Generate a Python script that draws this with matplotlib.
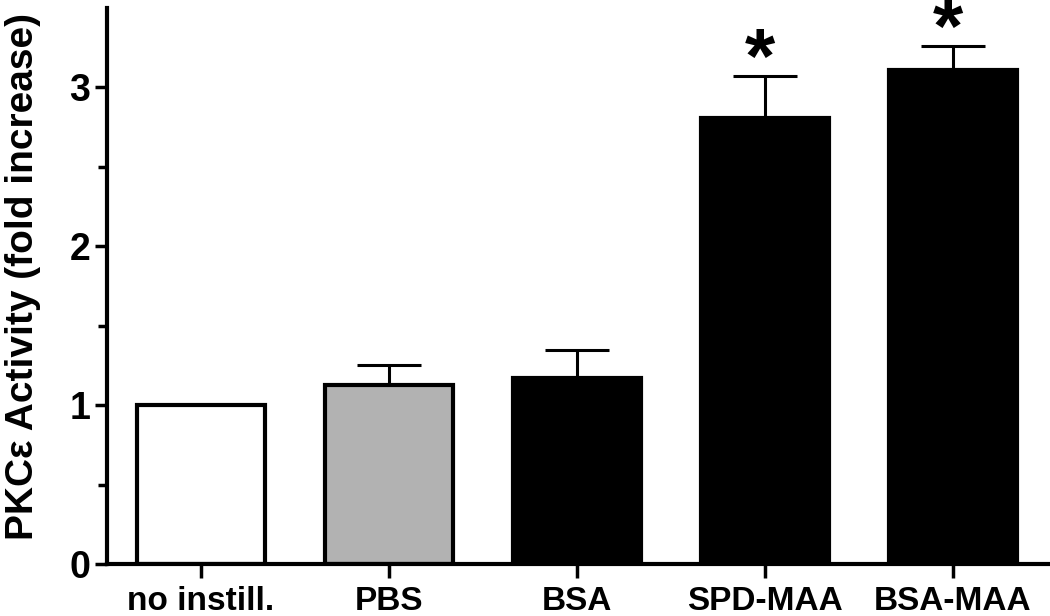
import matplotlib
matplotlib.use("Agg")
import matplotlib.pyplot as plt
from matplotlib.ticker import FixedLocator

plt.rcParams['font.family'] = ['Liberation Sans', 'DejaVu Sans']
plt.rcParams['font.weight'] = 'bold'

# --- data ---
groups = ["no instill.", "PBS", "BSA", "SPD-MAA", "BSA-MAA"]
activity = [1.0, 1.13, 1.17, 2.81, 3.11]
sem = [0.0, 0.12, 0.18, 0.26, 0.15]
fills = ["white", "#b2b2b2", "black", "black", "black"]
significant = [False, False, False, True, True]

fig = plt.figure(figsize=(10.5, 6.16), dpi=100)
ax = fig.add_axes([0.1019, 0.0844, 0.8981, 0.9026])

x = list(range(len(groups)))
ax.bar(x, activity, width=0.68, color=fills, edgecolor="black", linewidth=3, zorder=2)

# only upper error bars
ax.errorbar(x[1:], activity[1:], yerr=[[0] * 4, sem[1:]], fmt="none",
            ecolor="black", elinewidth=2.2, capsize=23, capthick=2.2, zorder=1)

# significance stars just above the caps
for xi, a, s, sig in zip(x, activity, sem, significant):
    if sig:
        ax.annotate("*", xy=(xi, a + s), xytext=(-3.6, -5), textcoords="offset points",
                    ha="center", va="baseline", fontsize=56, fontweight="bold",
                    annotation_clip=False)

ax.set_xlim(-0.5, 4.516)
ax.set_ylim(0, 3.5)
ax.set_xticks(x)
ax.set_xticklabels(groups, fontsize=24, fontweight="bold")
ax.set_yticks([0, 1, 2, 3])
ax.set_yticklabels(["0", "1", "2", "3"], fontsize=27, fontweight="bold")
ax.yaxis.set_minor_locator(FixedLocator([0.5, 1.5, 2.5]))

for side in ["top", "right"]:
    ax.spines[side].set_visible(False)
for side in ["left", "bottom"]:
    ax.spines[side].set_linewidth(3)

ax.tick_params(axis="y", which="major", length=9, width=2.5, pad=3)
ax.tick_params(axis="y", which="minor", length=6.5, width=2.5)
ax.tick_params(axis="x", which="major", length=10, width=2.5, pad=6)

fig.text(23 / 1050, 1 - 276 / 616, "PKCε Activity (fold increase)", rotation=90,
         ha="center", va="center", fontsize=28, fontweight="bold")

fig.savefig("out.png", dpi=100)
